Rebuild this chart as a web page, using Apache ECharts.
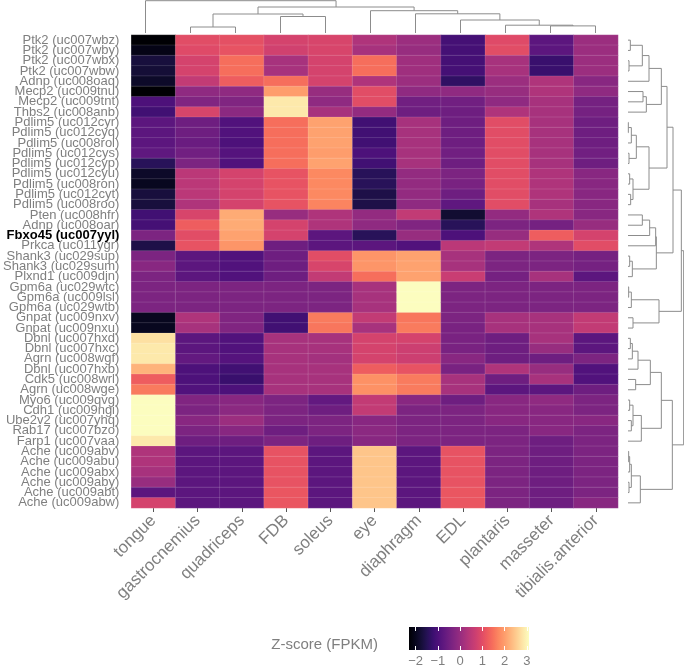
<!DOCTYPE html>
<html><head><meta charset="utf-8">
<script src="https://cdn.jsdelivr.net/npm/echarts@6/dist/echarts.min.js"></script>
<style>html,body{margin:0;padding:0;background:#fff}#c{width:684px;height:669px}</style>
</head><body><div id="c"></div>
<script>
const rowLabels = ['Ptk2 (uc007wbz)','Ptk2 (uc007wby)','Ptk2 (uc007wbx)','Ptk2 (uc007wbw)','Adnp (uc008oaq)','Mecp2 (uc009tnu)','Mecp2 (uc009tnt)','Thbs2 (uc008anb)','Pdlim5 (uc012cyr)','Pdlim5 (uc012cyq)','Pdlim5 (uc008rol)','Pdlim5 (uc012cys)','Pdlim5 (uc012cyp)','Pdlim5 (uc012cyu)','Pdlim5 (uc008ron)','Pdlim5 (uc012cyt)','Pdlim5 (uc008roo)','Pten (uc008hfr)','Adnp (uc008oar)','Fbxo45 (uc007yyl)','Prkca (uc011ygr)','Shank3 (uc029sup)','Shank3 (uc029sum)','Plxnd1 (uc009djn)','Gpm6a (uc029wtc)','Gpm6a (uc009lsl)','Gpm6a (uc029wtb)','Gnpat (uc009nxv)','Gnpat (uc009nxu)','Dbnl (uc007hxd)','Dbnl (uc007hxc)','Agrn (uc008wgf)','Dbnl (uc007hxb)','Cdk5 (uc008wrl)','Agrn (uc008wge)','Myo6 (uc009qvg)','Cdh1 (uc009ngi)','Ube2v2 (uc007yhq)','Rab17 (uc007bzo)','Farp1 (uc007vaa)','Ache (uc009abv)','Ache (uc009abu)','Ache (uc009abx)','Ache (uc009aby)','Ache (uc009abt)','Ache (uc009abw)'];
const tissues = ['tongue','gastrocnemius','quadriceps','FDB','soleus','eye','diaphragm','EDL','plantaris','masseter','tibialis.anterior'];
const highlighted = 'Fbxo45 (uc007yyl)';

const tongue = [-2.3,-2.1,-1.7,-1.75,-1.9,-2.35,-1.0,-1.15,-0.8,-0.8,-0.8,-0.75,-1.45,-1.9,-2.0,-1.7,-1.7,-1.15,-1.1,-0.35,-1.6,-0.35,-0.2,-0.35,-0.35,-0.35,-0.35,-2.0,-2.0,2.75,2.85,2.85,2.25,1.25,1.6,3.1,3.1,3.1,3.1,2.85,0.3,0.3,0.2,0.0,-0.8,0.8];
const gastrocnemius = [1.0,0.95,0.8,0.8,0.55,-0.1,-0.3,0.85,-0.55,-0.55,-0.6,-0.5,-0.35,0.45,0.45,0.45,0.3,0.85,1.25,1.0,1.1,-0.8,-0.8,-0.8,-0.35,-0.35,-0.35,0.3,0.2,-0.8,-0.8,-0.7,-1.0,-1.0,-0.95,-0.3,-0.35,-0.2,-0.35,-0.55,-0.8,-0.8,-0.8,-0.8,-0.8,-0.8];
const quadriceps = [1.05,1.1,1.45,1.45,1.25,-0.1,-0.3,-0.15,-0.95,-0.95,-1.0,-0.9,-0.95,0.8,0.8,0.8,0.8,2.15,2.15,2.05,1.9,-0.95,-0.95,-0.95,-0.35,-0.35,-0.35,-0.3,-0.3,-0.95,-0.95,-0.9,-1.15,-1.25,-1.0,-0.2,-0.15,0.05,-0.2,-0.55,-0.8,-0.8,-0.8,-0.8,-0.8,-0.8];
const FDB = [0.8,0.75,0.2,0.2,1.45,2.0,2.85,2.85,1.45,1.45,1.45,1.45,1.45,1.1,1.1,1.1,1.1,0.0,0.8,0.8,-0.55,-0.55,-0.55,-0.55,-0.35,-0.35,-0.35,-1.15,-1.15,0.2,0.2,0.2,0.2,0.2,0.2,-0.35,-0.35,-0.35,-0.55,-0.35,1.1,1.1,1.1,1.1,1.15,1.15];
const soleus = [0.85,0.85,0.8,0.8,0.8,0.0,-0.1,0.2,2.05,2.05,2.05,2.0,2.05,1.75,1.75,1.75,1.7,0.3,0.3,-0.8,-0.8,1.0,0.85,0.55,-0.35,-0.35,-0.35,1.6,1.55,0.2,0.2,0.15,0.2,0.2,0.2,-0.7,-0.55,-0.35,-0.35,-0.55,-0.8,-0.8,-0.8,-0.8,-0.8,-0.8];
const eye = [0.3,0.2,1.45,1.45,0.3,1.0,1.0,-0.05,-1.15,-1.15,-1.15,-1.0,-1.15,-1.45,-1.45,-1.6,-1.6,-0.05,-0.1,-1.45,-0.8,1.9,1.9,1.45,0.2,0.2,0.2,0.55,0.2,0.8,0.8,0.8,1.25,1.85,1.85,0.55,0.55,-0.2,-0.15,-0.2,2.45,2.45,2.45,2.45,2.45,2.45];
const diaphragm = [0.05,0.0,0.1,0.1,0.05,-0.1,-0.5,-0.55,0.2,0.2,0.2,0.2,0.2,-0.05,-0.05,-0.05,-0.1,0.55,-0.3,0.0,-0.95,2.05,2.05,2.05,3.1,3.1,3.1,1.55,1.6,0.8,0.7,0.7,1.1,1.6,1.6,-0.2,-0.35,-0.35,-0.35,-0.35,-0.8,-0.8,-0.8,-0.8,-0.8,-0.8];
const EDL = [-1.1,-1.1,-1.1,-1.1,-1.35,-0.1,-0.5,-0.55,-0.55,-0.55,-0.55,-0.5,-0.55,-0.35,-0.4,-0.55,-0.75,-1.8,-1.45,-1.0,0.45,0.2,0.2,0.65,-0.35,-0.35,-0.35,-0.35,-0.4,-0.4,-0.4,-0.2,-0.4,0.2,0.2,-0.55,-0.35,-0.35,-0.35,-0.35,1.1,1.1,1.1,1.1,1.15,1.15];
const plantaris = [0.95,1.0,0.2,0.2,0.05,0.0,-0.1,0.3,1.0,1.0,1.0,1.0,1.0,1.0,1.0,1.0,1.0,-0.05,-0.35,0.0,0.55,-0.35,-0.35,-0.45,-0.35,-0.35,-0.35,0.2,0.2,-0.55,-0.55,-0.55,0.3,-0.55,-0.8,-0.2,-0.2,-0.2,-0.35,-0.35,-0.35,-0.35,-0.35,-0.35,-0.35,-0.35];
const masseter = [-0.8,-0.8,-1.25,-1.25,0.3,0.3,0.2,0.2,0.2,0.2,0.2,0.2,0.2,0.3,0.3,0.3,0.2,0.3,-0.45,1.25,0.3,-0.35,-0.35,0.2,-0.35,-0.35,-0.35,0.2,0.2,0.2,0.0,-0.55,0.0,0.2,-0.8,-0.1,-0.2,-0.2,-0.2,-0.55,-0.55,-0.55,-0.55,-0.55,-0.55,-0.55];
const tibialisAnterior = [0.05,0.05,0.05,0.05,-0.2,-0.1,-0.45,-0.45,-0.55,-0.55,-0.55,-0.5,-0.55,-0.2,-0.2,-0.2,-0.2,-0.2,0.0,0.8,1.0,-0.45,-0.45,-0.8,-0.35,-0.35,-0.35,0.55,0.55,-0.8,-0.8,-0.35,-0.95,-0.95,-0.55,-0.35,-0.35,-0.2,-0.35,-0.35,-0.35,-0.35,-0.35,-0.35,-0.35,-0.2];

const columns = [tongue, gastrocnemius, quadriceps, FDB, soleus, eye, diaphragm, EDL, plantaris, masseter, tibialisAnterior];
const colorTicks = [-2, -1, 0, 1, 2, 3];
const zMin = -2.3, zMax = 3.1;

// dendrograms: [height, left, right]; leaves are indices
const colTree = [32.3, 0, [26, [19, [6, 1, 2], [16.5, 3, 4]], [22.3, 5, [19.2, 6, [13, 7, [7.8, 8, [7.1, 9, 10]]]]]]];
const rowTree = [167,
  [160,
    [135,
      [117,
        [100, [63, [43, [7, 0, 1], [3, 2, 3]], 4], [55, [45, 5, 6], 7]],
        [63, [25, [10, [1, 8, 9], 10], [3, 11, 12]], [15, [5, 13, 14], [8, 15, 16]]]
      ],
      [85, [83, [65, [43, 17, 18], 19], 20], [13, [5, 21, 22], 23]]
    ],
    [93, [10, [2, 24, 25], 26], [15, 27, 28]]
  ],
  [133,
    [100, [67, [30, [13, [7, 29, 30], 31], 32], [23, 33, 34]], [40, [15, [5, 35, 36], [10, 37, 38]], 39]],
    [37, [10, [5, [2, 40, 41], 42], [3, 43, 44]], 45]
  ]
];

function layoutTree(node, segs) {
  if (typeof node === 'number') return { pos: node, h: 0 };
  const l = layoutTree(node[1], segs), r = layoutTree(node[2], segs);
  segs.push([[l.pos, l.h], [l.pos, node[0]], [r.pos, node[0]], [r.pos, r.h]]);
  return { pos: (l.pos + r.pos) / 2, h: node[0] };
}
const colSegs = []; layoutTree(colTree, colSegs);
const rowSegs = []; layoutTree(rowTree, rowSegs);

const magma = ['#000004','#07061c','#140e36','#251255','#3b0f70','#51127c','#641a80','#782281','#8c2981','#a1307e','#b73779','#ca3e72','#de4968','#ed5a5f','#f7705c','#fc8961','#fe9f6d','#feb77e','#fecf92','#fde7a9','#fcfdbf'];

const heatData = [];
columns.forEach((col, ci) => col.forEach((v, ri) => heatData.push([ci, ri, v])));

const FONT = "'Liberation Sans', Arial, Helvetica, sans-serif";
const GREY = '#7f7f7f';
const DGREY = '#8c8c8c';

const chart = echarts.init(document.getElementById('c'), null, { renderer: 'canvas' });
chart.setOption({
  animation: false,
  backgroundColor: '#fff',
  textStyle: { fontFamily: FONT },
  grid: [
    { left: 123, top: 35, width: 495, height: 473 },
    { left: 123, top: 0, width: 495, height: 33 },
    { left: 628, top: 35, width: 56, height: 473 },
    { left: 409, top: 627, width: 120, height: 23 }
  ],
  xAxis: [
    { gridIndex: 0, type: 'category', data: tissues, position: 'bottom',
      axisLine: { show: false }, splitLine: { show: false },
      axisTick: { show: true, alignWithLabel: true, length: 4, lineStyle: { color: '#555', width: 1 } },
      axisLabel: { interval: 0, rotate: 45, fontSize: 17, color: GREY, margin: 10, fontFamily: FONT } },
    { gridIndex: 1, type: 'value', min: -0.5, max: 10.5, show: false },
    { gridIndex: 2, type: 'value', min: 0, max: 168, show: false },
    { gridIndex: 3, type: 'value', min: zMin, max: zMax, position: 'bottom', z: 10,
      axisLine: { show: false }, splitLine: { show: false },
      axisTick: { show: true, inside: true, length: 4, customValues: colorTicks, lineStyle: { color: '#fff', width: 1 } },
      axisLabel: { show: true, customValues: colorTicks, fontSize: 13, color: GREY, margin: 5, fontFamily: FONT,
        formatter: v => (v < 0 ? '\u2212' + Math.abs(v) : String(v)) } },
    { gridIndex: 3, type: 'value', min: zMin, max: zMax, position: 'top', z: 10,
      axisLine: { show: false }, splitLine: { show: false },
      axisTick: { show: true, inside: true, length: 4, customValues: colorTicks, lineStyle: { color: '#fff', width: 1 } },
      axisLabel: { show: false } }
  ],
  yAxis: [
    { gridIndex: 0, type: 'category', data: rowLabels, inverse: true,
      axisLine: { show: false }, axisTick: { show: false }, splitLine: { show: false },
      axisLabel: { interval: 0, fontSize: 13, color: GREY, margin: 12, fontFamily: FONT,
        formatter: v => (v === highlighted ? '{b|' + v + '}' : v),
        rich: { b: { fontWeight: 'bold', color: '#000', fontSize: 13, fontFamily: FONT } } } },
    { gridIndex: 1, type: 'value', min: 0, max: 33, show: false },
    { gridIndex: 2, type: 'value', min: -0.5, max: 45.5, inverse: true, show: false },
    { gridIndex: 3, type: 'value', min: 0, max: 1, show: false }
  ],
  visualMap: { show: false, type: 'continuous', min: zMin, max: zMax, seriesIndex: 0, inRange: { color: magma } },
  graphic: [
    { type: 'rect', z: -1, shape: { x: 409, y: 627, width: 120, height: 23 },
      style: { fill: new echarts.graphic.LinearGradient(0, 0, 1, 0, magma.map((c, i) => ({ offset: i / (magma.length - 1), color: c }))) } },
    { type: 'text', x: 378, y: 645, style: { text: 'Z-score (FPKM)', textAlign: 'right', textVerticalAlign: 'middle', font: '15px ' + FONT, fill: GREY } }
  ],
  series: [
    { type: 'heatmap', xAxisIndex: 0, yAxisIndex: 0, data: heatData,
      itemStyle: { borderColor: 'rgba(255,255,255,0.22)', borderWidth: 0.6 },
      emphasis: { disabled: true } },
    { type: 'lines', coordinateSystem: 'cartesian2d', xAxisIndex: 1, yAxisIndex: 1, polyline: true, silent: true,
      lineStyle: { color: DGREY, width: 1, opacity: 1 },
      data: colSegs.map(s => ({ coords: s })) },
    { type: 'lines', coordinateSystem: 'cartesian2d', xAxisIndex: 2, yAxisIndex: 2, polyline: true, silent: true,
      lineStyle: { color: DGREY, width: 1, opacity: 1 },
      data: rowSegs.map(s => ({ coords: s.map(p => [p[1], p[0]]) })) },
    { type: 'scatter', xAxisIndex: 3, yAxisIndex: 3, data: [], silent: true }
  ]
});
</script></body></html>
